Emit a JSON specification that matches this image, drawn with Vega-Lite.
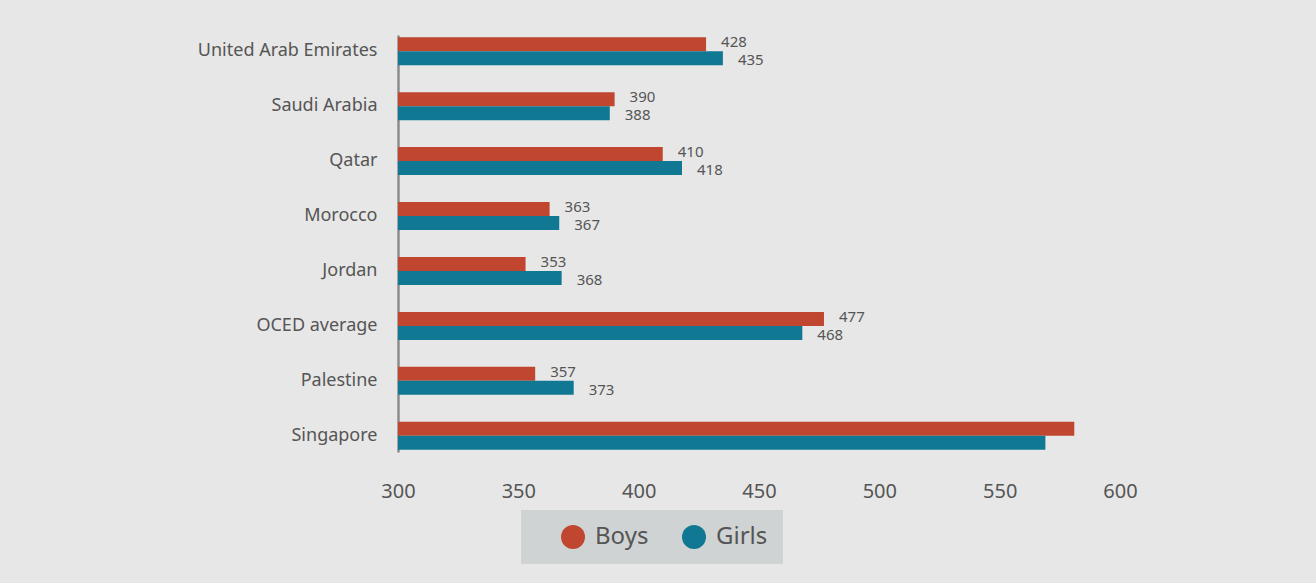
{
  "$schema": "https://vega.github.io/schema/vega-lite/v6.json",
  "width": 722,
  "height": 417,
  "autosize": {"type": "none"},
  "padding": {"left": 398, "top": 35, "right": 196, "bottom": 131},
  "background": "#e7e7e7",
  "config": {"view": {"stroke": null}, "font": "Noto Sans"},
  "data": {
    "values": [
      {"country": "United Arab Emirates", "gender": "Boys", "score": 428},
      {"country": "United Arab Emirates", "gender": "Girls", "score": 435},
      {"country": "Saudi Arabia", "gender": "Boys", "score": 390},
      {"country": "Saudi Arabia", "gender": "Girls", "score": 388},
      {"country": "Qatar", "gender": "Boys", "score": 410},
      {"country": "Qatar", "gender": "Girls", "score": 418},
      {"country": "Morocco", "gender": "Boys", "score": 363},
      {"country": "Morocco", "gender": "Girls", "score": 367},
      {"country": "Jordan", "gender": "Boys", "score": 353},
      {"country": "Jordan", "gender": "Girls", "score": 368},
      {"country": "OCED average", "gender": "Boys", "score": 477},
      {"country": "OCED average", "gender": "Girls", "score": 468},
      {"country": "Palestine", "gender": "Boys", "score": 357},
      {"country": "Palestine", "gender": "Girls", "score": 373},
      {"country": "Singapore", "gender": "Boys", "score": 581},
      {"country": "Singapore", "gender": "Girls", "score": 569}
    ]
  },
  "encoding": {
    "y": {
      "field": "country",
      "type": "nominal",
      "sort": ["United Arab Emirates", "Saudi Arabia", "Qatar", "Morocco", "Jordan", "OCED average", "Palestine", "Singapore"],
      "scale": {"paddingInner": 0.49, "paddingOuter": 0.04},
      "axis": {
        "title": null,
        "ticks": false,
        "tickSize": 0,
        "labelPadding": 21,
        "labelFontSize": 18,
        "labelColor": "#555555",
        "labelLimit": 400,
        "domainColor": "#8c8c8c",
        "domainWidth": 2.5,
        "grid": false
      }
    },
    "yOffset": {"field": "gender", "type": "nominal", "sort": ["Boys", "Girls"]},
    "x": {
      "field": "score",
      "type": "quantitative",
      "scale": {"domain": [300, 600], "nice": false, "zero": false},
      "axis": {
        "title": null,
        "values": [300, 350, 400, 450, 500, 550, 600],
        "ticks": false,
        "tickSize": 0,
        "domain": false,
        "grid": false,
        "labelPadding": 29,
        "labelFontSize": 20,
        "labelColor": "#555555",
        "labelFlush": false
      }
    }
  },
  "layer": [
    {
      "mark": {"type": "bar", "clip": false},
      "encoding": {
        "x2": {"datum": 300},
        "color": {
          "field": "gender",
          "type": "nominal",
          "sort": ["Boys", "Girls"],
          "scale": {"domain": ["Boys", "Girls"], "range": ["#c0462f", "#107893"]},
          "legend": {
            "title": null,
            "orient": "none",
            "legendX": 123,
            "legendY": 475,
            "direction": "horizontal",
            "fillColor": "#d0d3d4",
            "padding": 15,
            "symbolType": "circle",
            "symbolSize": 576,
            "symbolOffset": 25,
            "labelOffset": 10,
            "columnPadding": 8,
            "labelFontSize": 24,
            "labelColor": "#555555",
            "labelExpr": "datum.label === 'Girls' ? datum.label + '\u2002\u2009' : datum.label",
            "symbolStrokeWidth": 0,
            "symbolOpacity": 1
          }
        }
      }
    },
    {
      "transform": [{"filter": "datum.country !== 'Singapore' && datum.gender === 'Boys'"}],
      "mark": {"type": "text", "align": "left", "baseline": "middle", "dx": 15, "dy": -2, "fontSize": 15, "color": "#555555"},
      "encoding": {"text": {"field": "score", "type": "quantitative"}}
    },
    {
      "transform": [{"filter": "datum.country !== 'Singapore' && datum.gender === 'Girls'"}],
      "mark": {"type": "text", "align": "left", "baseline": "middle", "dx": 15, "dy": 2, "fontSize": 15, "color": "#555555"},
      "encoding": {"text": {"field": "score", "type": "quantitative"}}
    }
  ]
}
